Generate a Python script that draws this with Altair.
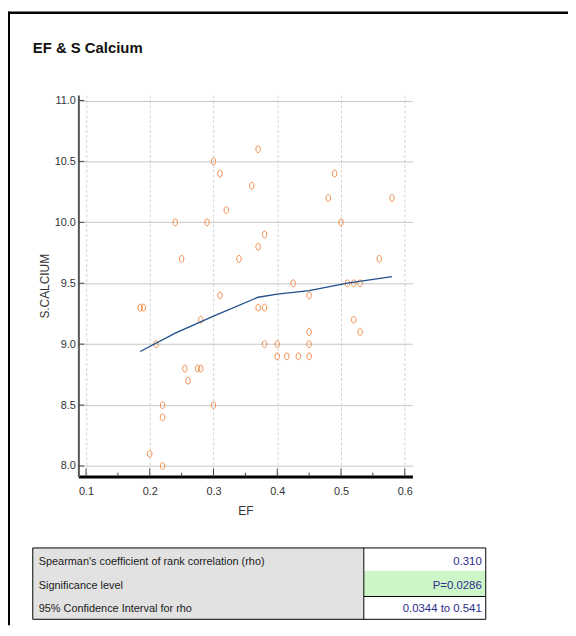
import altair as alt
import pandas as pd

# ---------------- data ----------------
ef = [0.37, 0.30, 0.31, 0.36, 0.32, 0.24, 0.29, 0.38, 0.37, 0.25, 0.34, 0.425,
      0.31, 0.185, 0.19, 0.37, 0.38, 0.28, 0.21, 0.38, 0.40, 0.40, 0.415, 0.433,
      0.45, 0.255, 0.275, 0.28, 0.26, 0.22, 0.22, 0.30, 0.20, 0.22, 0.49, 0.48,
      0.58, 0.50, 0.56, 0.51, 0.52, 0.53, 0.45, 0.52, 0.53, 0.45, 0.45]
calcium = [10.6, 10.5, 10.4, 10.3, 10.1, 10.0, 10.0, 9.9, 9.8, 9.7, 9.7, 9.5,
           9.4, 9.3, 9.3, 9.3, 9.3, 9.2, 9.0, 9.0, 9.0, 8.9, 8.9, 8.9,
           8.9, 8.8, 8.8, 8.8, 8.7, 8.5, 8.4, 8.5, 8.1, 8.0, 10.4, 10.2,
           10.2, 10.0, 9.7, 9.5, 9.5, 9.5, 9.4, 9.2, 9.1, 9.1, 9.0]
fit_ef = [0.185, 0.24, 0.30, 0.37, 0.40, 0.45, 0.51, 0.58]
fit_ca = [8.94, 9.09, 9.23, 9.385, 9.41, 9.44, 9.50, 9.555]

x_ticks = [0.1, 0.2, 0.3, 0.4, 0.5, 0.6]
x_minor = [0.15, 0.25, 0.35, 0.45, 0.55]
y_ticks = [8.0, 8.5, 9.0, 9.5, 10.0, 10.5, 11.0]

title_text = "EF & S Calcium"
x_title = "EF"
y_title = "S.CALCIUM"
table_labels = ["Spearman's coefficient of rank correlation (rho)",
                "Significance level",
                "95% Confidence Interval for rho"]
table_values = ["0.310", "P=0.0286", "0.0344 to 0.541"]

# ---------------- styling ----------------
W, H = 337, 385
NARROW = "Liberation Sans Narrow, Arial Narrow, Liberation Sans, sans-serif"
REG = "Liberation Sans, Arial, sans-serif"
xscale = alt.Scale(domain=[0.088, 0.612], nice=False, zero=False)
yscale = alt.Scale(domain=[7.913, 11.045], nice=False, zero=False)

pts = pd.DataFrame({"EF": ef, "S": calcium})
fit = pd.DataFrame({"EF": fit_ef, "S": fit_ca})

ellipse = "M0,-1A0.64,1 0 1,1 0,1A0.64,1 0 1,1 0,-1Z"

xaxis = alt.Axis(values=x_ticks, format=".1f", title=x_title, ticks=False,
                 domainColor="black", domainWidth=3, grid=True,
                 gridDash=[3, 2], gridColor="#d2d2d2", labelPadding=9,
                 titlePadding=9, labelFont=NARROW, labelFontSize=11,
                 labelColor="#333", titleFont=REG, titleFontSize=12,
                 titleFontWeight="normal", titleColor="#333")
yaxis = alt.Axis(values=y_ticks, format=".1f", title=y_title, ticks=False,
                 domainColor="#555", domainWidth=2, grid=True,
                 gridColor="#c6c6c6", labelPadding=3, titlePadding=3,
                 labelFont=NARROW, labelFontSize=11, labelColor="#333",
                 titleFont=REG, titleFontSize=12, titleFontWeight="normal",
                 titleColor="#333")

points = alt.Chart(pts).mark_point(
    shape=ellipse, filled=False, size=49, strokeWidth=1, color="#f08a48", opacity=1
).encode(
    x=alt.X("EF:Q", scale=xscale, axis=xaxis),
    y=alt.Y("S:Q", scale=yscale, axis=yaxis),
)

line = alt.Chart(fit).mark_line(color="#1f4f8c", strokeWidth=1.3).encode(
    x=alt.X("EF:Q", scale=xscale, axis=xaxis),
    y=alt.Y("S:Q", scale=yscale, axis=yaxis),
)

xmaj = alt.Chart(pd.DataFrame({"EF": x_ticks})).mark_rule(color="#444", strokeWidth=1).encode(
    x=alt.X("EF:Q", scale=xscale, axis=xaxis), y=alt.value(H), y2=alt.value(H - 8))
xmin = alt.Chart(pd.DataFrame({"EF": x_minor})).mark_rule(color="#444", strokeWidth=1).encode(
    x=alt.X("EF:Q", scale=xscale, axis=xaxis), y=alt.value(H), y2=alt.value(H - 4))
ytk = alt.Chart(pd.DataFrame({"S": y_ticks})).mark_rule(color="#444", strokeWidth=1).encode(
    y=alt.Y("S:Q", scale=yscale, axis=yaxis), x=alt.value(0), x2=alt.value(6))

one = pd.DataFrame({"t": [title_text]})
title = alt.Chart(one).mark_text(
    font=NARROW, fontSize=15, fontWeight="bold", align="left", baseline="alphabetic",
    color="#111"
).encode(text="t:N", x=alt.value(-46), y=alt.value(-42))

border_top = alt.Chart(one).mark_rule(color="black", strokeWidth=2.5).encode(
    x=alt.value(-71), x2=alt.value(494), y=alt.value(-83))
border_left = alt.Chart(one).mark_rule(color="black", strokeWidth=2).encode(
    x=alt.value(-70), y=alt.value(-84), y2=alt.value(535))

# table geometry (pixels relative to plot origin)
TL, TD, TR = -46, 288, 411
rows = [457, 481, 506, 529]
layers = [points, line, xmaj, xmin, ytk, title, border_top, border_left]

layers.append(alt.Chart(one).mark_rect(color="#e2e2e2").encode(
    x=alt.value(TL), x2=alt.value(TD), y=alt.value(rows[0]), y2=alt.value(rows[3])))
layers.append(alt.Chart(one).mark_rect(color="#ffffff").encode(
    x=alt.value(TD), x2=alt.value(TR), y=alt.value(rows[0]), y2=alt.value(rows[3])))
layers.append(alt.Chart(one).mark_rect(color="#ccf5c8").encode(
    x=alt.value(TD), x2=alt.value(TR), y=alt.value(rows[1] - 1), y2=alt.value(rows[2])))
for (xa, xb, ya) in [(TL, TR, rows[0]), (TL, TR, rows[3]), (TD, TR, rows[2])]:
    layers.append(alt.Chart(one).mark_rule(color="black", strokeWidth=1).encode(
        x=alt.value(xa), x2=alt.value(xb), y=alt.value(ya)))
for xv in [TL, TD, TR]:
    layers.append(alt.Chart(one).mark_rule(color="black", strokeWidth=1).encode(
        x=alt.value(xv), y=alt.value(rows[0]), y2=alt.value(rows[3])))

baselines = [474, 498, 522]
for lab, val, bl in zip(table_labels, table_values, baselines):
    d = pd.DataFrame({"lab": [lab], "val": [val]})
    layers.append(alt.Chart(d).mark_text(
        font=NARROW, fontSize=11, align="left", baseline="alphabetic", color="#1a1a1a"
    ).encode(text="lab:N", x=alt.value(TL + 6), y=alt.value(bl)))
    layers.append(alt.Chart(d).mark_text(
        font=NARROW, fontSize=11.5, align="right", baseline="alphabetic", color="#2c2c8c"
    ).encode(text="val:N", x=alt.value(TR - 4), y=alt.value(bl)))

chart = alt.layer(*layers).properties(
    width=W, height=H,
    autosize=alt.AutoSizeParams(type="none"),
    padding={"left": 71, "top": 85, "right": 157, "bottom": 150},
    background="white",
).configure_view(stroke=None)

chart.save("out.html", embed_options={"renderer": "svg", "actions": False})
